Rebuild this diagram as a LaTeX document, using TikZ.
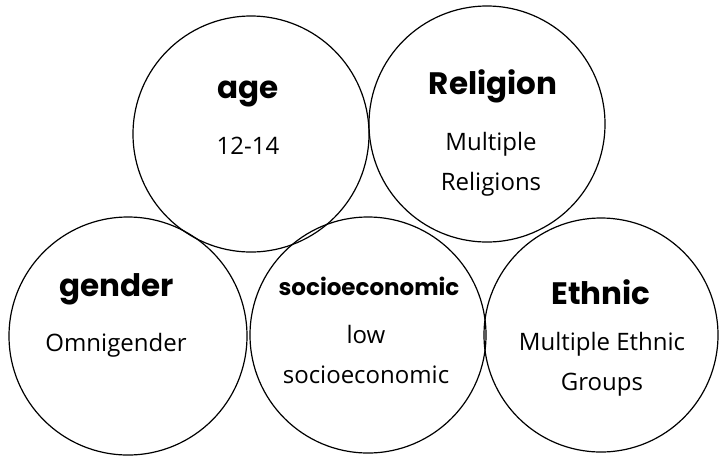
\documentclass[tikz,border=0pt]{standalone}
\usepackage{fontspec}
\setmainfont{Poppins}
\newfontfamily\handfont{Open Sans}
\begin{document}
\begin{tikzpicture}[x=1pt,y=-1pt]
\tikzset{
  bubble/.style={draw, circle, line width=1.2pt, inner sep=0pt},
  head/.style={font=\fontsize{31}{36}\selectfont\bfseries},
  body/.style={font=\handfont\fontsize{24}{40}\selectfont, align=center}
}
\useasboundingbox (0,0) rectangle (719,456);
% the five circles
\node[bubble, minimum size=236pt] (age) at (251,134) {};
\node[bubble, minimum size=236pt] (religion) at (487,124) {};
\node[bubble, minimum size=238pt] (gender) at (128,336) {};
\node[bubble, minimum size=236pt] (socio) at (368,335) {};
\node[bubble, minimum size=234pt] (ethnic) at (601,335) {};
% labels
\node[head] (agehead) at (248,94) {age};
\node[body] (agetext) at (248,146) {12-14};
\node[head] (religionhead) at (493,86) {Religion};
\node[body] (religiontext) at (491,164) {Multiple\\Religions};
\node[head] (genderhead) at (117,289) {gender};
\node[body] (gendertext) at (116,345) {Omnigender};
\node[head, font=\fontsize{23}{26}\selectfont\bfseries] (sociohead) at (369,286) {socioeconomic};
\node[body] (sociotext) at (366,354) {low\\socioeconomic};
\node[head] (ethnichead) at (601,292) {Ethnic};
\node[body] (ethnictext) at (602,364) {Multiple Ethnic\\Groups};
\end{tikzpicture}
\end{document}
